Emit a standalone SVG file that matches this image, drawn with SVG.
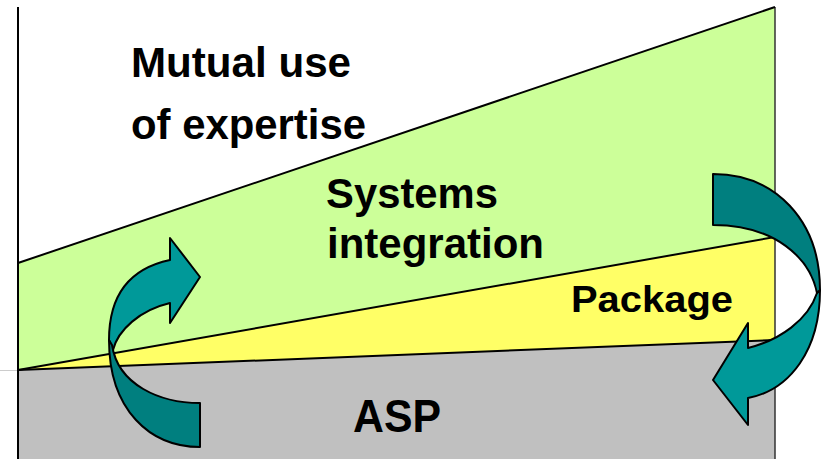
<svg xmlns="http://www.w3.org/2000/svg" width="827" height="459" viewBox="0 0 827 459">
<style>
.edge{stroke:#000;stroke-width:2;fill:none;stroke-linejoin:round}
.lbl{font-family:"Liberation Sans",Arial,sans-serif;font-weight:bold;fill:#000}
.arrowL{fill:#009999;stroke:#000;stroke-width:2;stroke-linejoin:round}
.arrowD{fill:#007F7F;stroke:#000;stroke-width:2;stroke-linejoin:round}
</style>
<rect width="827" height="459" fill="#fff"/>
<g id="bands">
<polygon id="band-expertise" points="18,263 775,7 775,237 18,370" fill="#CCFF99"/>
<polygon id="band-package" points="18,370 775,237 775,340" fill="#FFFF66"/>
<polygon id="band-asp" points="18,370 775,340 775,459 18,459" fill="#C0C0C0"/>
<line x1="0" y1="370.5" x2="18" y2="370.5" stroke="#ccc" stroke-width="1"/>
<line x1="775" y1="7" x2="775" y2="459" stroke="#333" stroke-width="1.5"/>
<line class="edge" x1="18" y1="263" x2="775" y2="7" stroke-width="2.5"/>
<line class="edge" x1="18" y1="370" x2="775" y2="237"/>
<line class="edge" x1="18" y1="370" x2="775" y2="340"/>
<line class="edge" x1="18" y1="7" x2="18" y2="459"/>
</g>
<g id="labels">
<text class="lbl" x="131" y="77" font-size="42" textLength="220" lengthAdjust="spacingAndGlyphs">Mutual use</text>
<text class="lbl" x="131" y="139" font-size="42" textLength="235" lengthAdjust="spacingAndGlyphs">of expertise</text>
<text class="lbl" x="326" y="208" font-size="42" textLength="172" lengthAdjust="spacingAndGlyphs">Systems</text>
<text class="lbl" x="327" y="258" font-size="42" textLength="217" lengthAdjust="spacingAndGlyphs">integration</text>
<text class="lbl" x="571" y="312" font-size="36" textLength="162" lengthAdjust="spacingAndGlyphs">Package</text>
<text class="lbl" x="353" y="432" font-size="46" textLength="88" lengthAdjust="spacingAndGlyphs">ASP</text>
</g>
<g id="connectors">
<g id="arrow-up">
<path class="arrowL" d="M170,260 L170,238 L200,277 L170,323 L170,303 C140,310 118,330 113,350 L109,340 C109,292 132,268 170,260 Z"/>
<path class="arrowD" d="M200,403 C160,403 118,385 112,345 L109,340 C109,410 150,447 200,447 Z"/>
</g>
<g id="arrow-down">
<path class="arrowL" d="M820,290 C820,350 790,390 748,398 L748,425 L713,380 L748,323 L748,348 C780,340 808,320 817,293 Z"/>
<path class="arrowD" d="M713,174 C775,174 820,220 820,290 L817,293 C810,258 775,225 713,225 Z"/>
</g>
</g>
</svg>
